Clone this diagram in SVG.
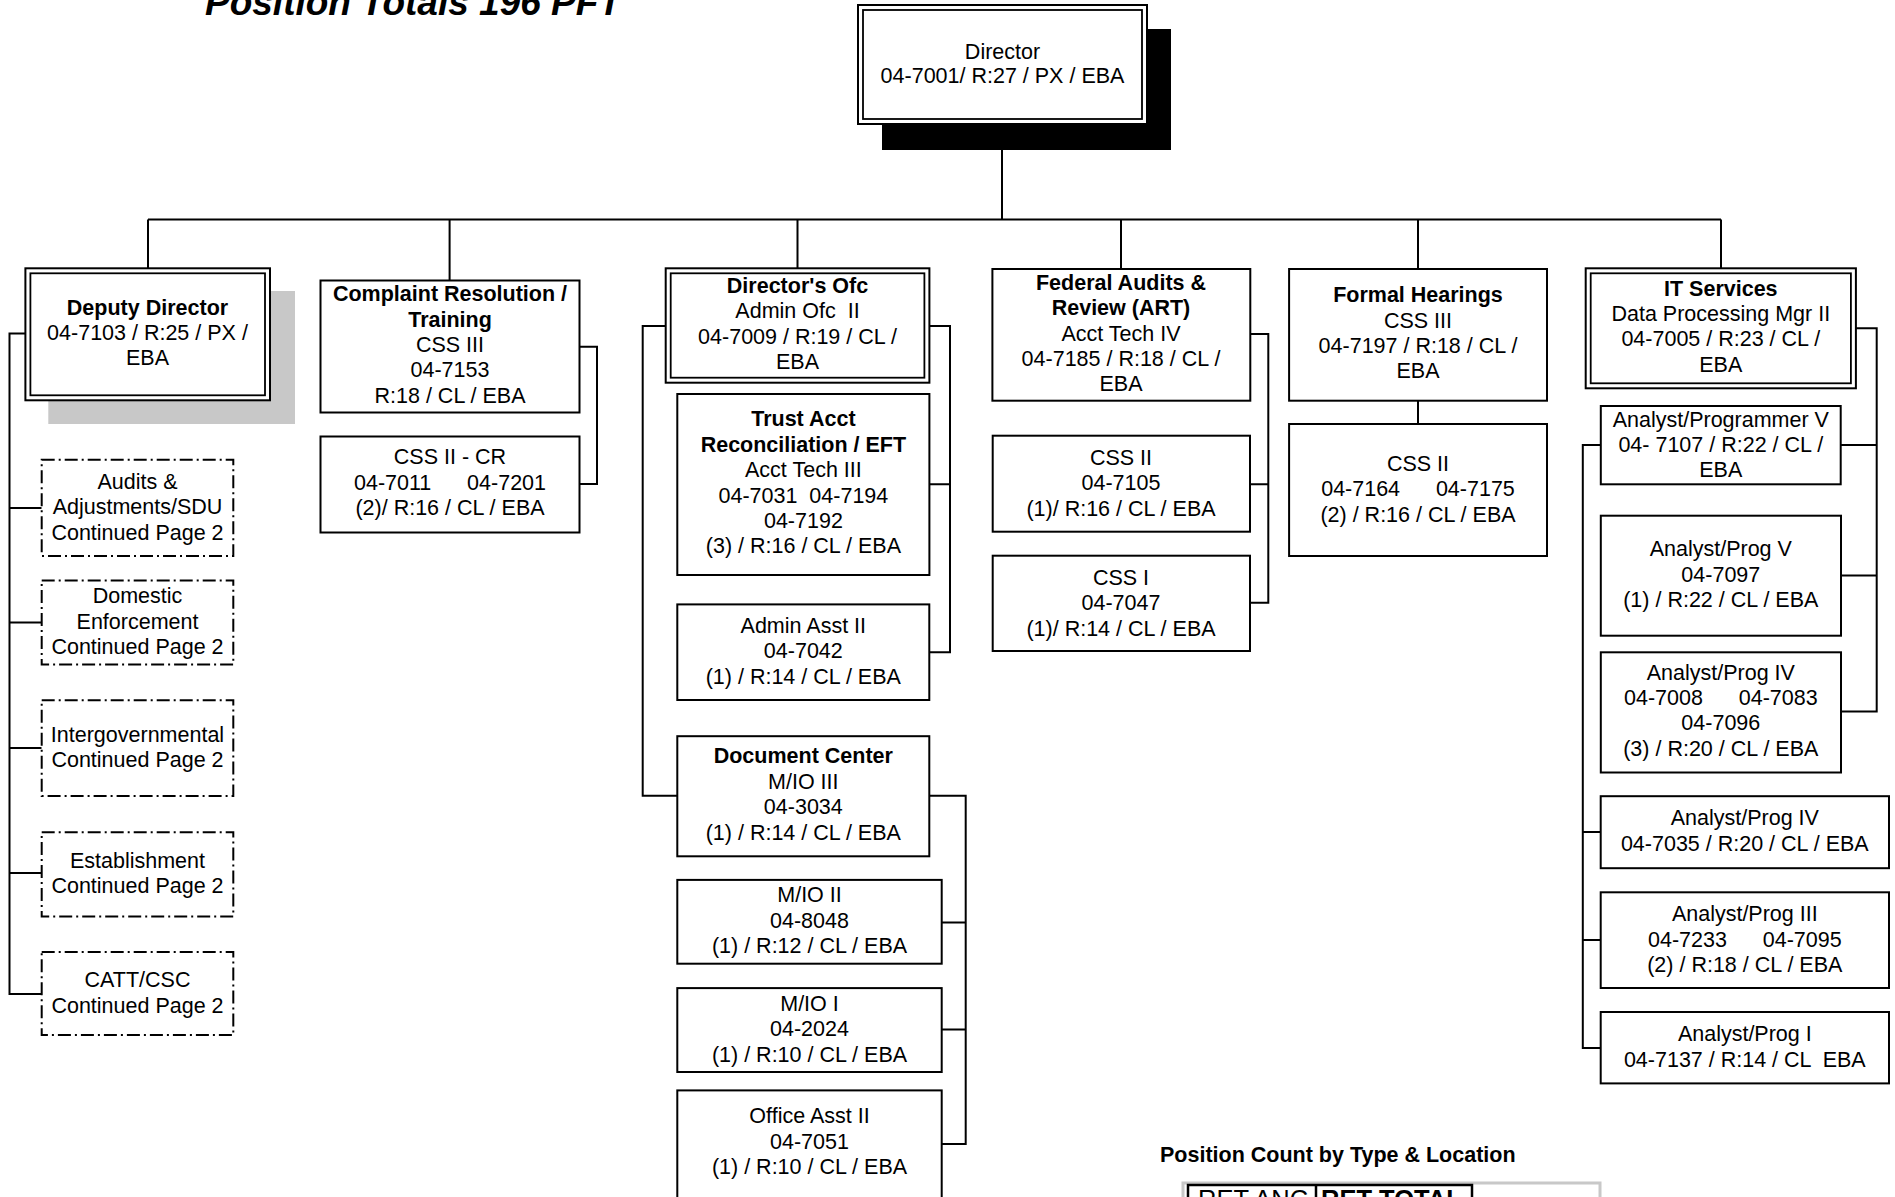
<svg xmlns="http://www.w3.org/2000/svg" width="1895" height="1197" viewBox="0 0 1895 1197">
<style>
.bg{fill:#ffffff}
.box{fill:#ffffff;stroke:#000;stroke-width:2}
.dbl{fill:none;stroke:#000;stroke-width:1.8}
.dash{fill:#ffffff;stroke:#000;stroke-width:2;stroke-dasharray:13 4 2 4}
.ln{fill:none;stroke:#000;stroke-width:2}
.t{font-family:"Liberation Sans",Arial,sans-serif;font-size:21.5px;text-anchor:middle;fill:#000}
.b{font-weight:bold}
.title{font-family:"Liberation Sans",Arial,sans-serif;font-size:37px;font-weight:bold;font-style:italic;fill:#000}
</style>
<rect class="bg" x="0" y="0" width="1895" height="1197"/>
<text class="title" x="205" y="15">Position Totals 196 PFT</text>

<g id="connectors">
<path class="ln" d="M1002,124 V219.5"/>
<path class="ln" d="M148,219.5 H1721"/>
<path class="ln" d="M148,219.5 V268.3 M449.6,219.5 V280.5 M797.5,219.5 V268.3 M1121,219.5 V269 M1418,219.5 V269 M1721,219.5 V268.3"/>
<path class="ln" d="M25.4,333.6 H9.5 V994 H41.7 M9.5,508 H41.7 M9.5,622.5 H41.7 M9.5,748 H41.7 M9.5,873 H41.7"/>
<path class="ln" d="M578.9,346.7 H597 V484 H578.9"/>
<path class="ln" d="M665.7,326 H642.7 V795.7 H677.3"/>
<path class="ln" d="M929.4,326 H950 V652.3 H929.4 M950,484.3 H929.4"/>
<path class="ln" d="M929.3,795.7 H965.7 V1144 H941.7 M965.7,922.4 H941.7 M965.7,1029.4 H941.7"/>
<path class="ln" d="M1250.3,334 H1268.3 V602.7 H1250 M1268.3,484.3 H1250"/>
<path class="ln" d="M1418,400.7 V424"/>
<path class="ln" d="M1855.9,328.3 H1876.7 V711.5 H1841 M1876.7,445 H1840.7 M1876.7,575.5 H1841"/>
<path class="ln" d="M1600.8,445 H1582.8 V1048 H1600.7 M1582.8,832 H1600.7 M1582.8,940 H1600.7"/>
</g>

<g id="director">
<rect x="882" y="29" width="289" height="121" fill="#000"/>
<rect class="box" x="858" y="5" width="289" height="119"/>
<rect class="dbl" x="863" y="10" width="279" height="109"/>
<text class="t" x="1002.5" y="58.5">Director</text>
<text class="t" x="1002.5" y="83">04-7001/ R:27 / PX / EBA</text>
</g>

<g id="deputy-director">
<rect x="48.3" y="291" width="246.7" height="133" fill="#c8c8c8"/>
<rect class="box" x="25.4" y="268.3" width="244.6" height="132"/>
<rect class="dbl" x="30.4" y="273.3" width="234.6" height="122"/>
<text class="t b" x="147.5" y="314.6">Deputy Director</text>
<text class="t" x="147.5" y="340">04-7103 / R:25 / PX /</text>
<text class="t" x="147.5" y="365.4">EBA</text>
</g>

<g id="audits-adjustments">
<rect class="dash" x="41.7" y="459.8" width="191.6" height="96.1"/>
<text class="t" x="137.5" y="489">Audits &amp;</text>
<text class="t" x="137.5" y="514.4">Adjustments/SDU</text>
<text class="t" x="137.5" y="539.8">Continued Page 2</text>
</g>
<g id="domestic-enforcement">
<rect class="dash" x="41.7" y="580.4" width="191.6" height="84.2"/>
<text class="t" x="137.5" y="603.4">Domestic</text>
<text class="t" x="137.5" y="628.8">Enforcement</text>
<text class="t" x="137.5" y="654.2">Continued Page 2</text>
</g>
<g id="intergovernmental">
<rect class="dash" x="41.7" y="700.2" width="191.6" height="95.7"/>
<text class="t" x="137.5" y="741.6">Intergovernmental</text>
<text class="t" x="137.5" y="767">Continued Page 2</text>
</g>
<g id="establishment">
<rect class="dash" x="41.7" y="832.2" width="191.6" height="84.3"/>
<text class="t" x="137.5" y="868">Establishment</text>
<text class="t" x="137.5" y="893.4">Continued Page 2</text>
</g>
<g id="catt-csc">
<rect class="dash" x="41.7" y="952" width="191.6" height="83"/>
<text class="t" x="137.5" y="987.1">CATT/CSC</text>
<text class="t" x="137.5" y="1012.5">Continued Page 2</text>
</g>

<g id="complaint-resolution">
<rect class="box" x="320.5" y="280.5" width="259" height="132"/>
<text class="t b" x="450" y="301.2">Complaint Resolution /</text>
<text class="t b" x="450" y="326.6">Training</text>
<text class="t" x="450" y="352">CSS III</text>
<text class="t" x="450" y="377.4">04-7153</text>
<text class="t" x="450" y="402.8">R:18 / CL / EBA</text>
</g>
<g id="css2-cr">
<rect class="box" x="320.5" y="436.5" width="259" height="96"/>
<text class="t" x="450" y="463.5">CSS II - CR</text>
<text class="t" x="450" y="489.5" xml:space="preserve">04-7011      04-7201</text>
<text class="t" x="450" y="515.2">(2)/ R:16 / CL / EBA</text>
</g>

<g id="directors-ofc">
<rect class="box" x="665.7" y="268.3" width="263.7" height="114.4"/>
<rect class="dbl" x="670.7" y="273.3" width="253.7" height="104.4"/>
<text class="t b" x="797.5" y="293">Director's Ofc</text>
<text class="t" x="797.5" y="318.4" xml:space="preserve">Admin Ofc  II</text>
<text class="t" x="797.5" y="343.8">04-7009 / R:19 / CL /</text>
<text class="t" x="797.5" y="369.2">EBA</text>
</g>
<g id="trust-acct">
<rect class="box" x="677.3" y="394" width="252.1" height="181"/>
<text class="t b" x="803.4" y="426.2">Trust Acct</text>
<text class="t b" x="803.4" y="451.7">Reconciliation / EFT</text>
<text class="t" x="803.4" y="477.1">Acct Tech III</text>
<text class="t" x="803.4" y="502.5" xml:space="preserve">04-7031  04-7194</text>
<text class="t" x="803.4" y="527.9">04-7192</text>
<text class="t" x="803.4" y="553.4">(3) / R:16 / CL / EBA</text>
</g>
<g id="admin-asst">
<rect class="box" x="677.3" y="604.4" width="252" height="95.6"/>
<text class="t" x="803.3" y="632.8">Admin Asst II</text>
<text class="t" x="803.3" y="658.2">04-7042</text>
<text class="t" x="803.3" y="683.6">(1) / R:14 / CL / EBA</text>
</g>
<g id="document-center">
<rect class="box" x="677.3" y="736.2" width="252" height="120.1"/>
<text class="t b" x="803.3" y="763.3">Document Center</text>
<text class="t" x="803.3" y="788.7">M/IO III</text>
<text class="t" x="803.3" y="814.1">04-3034</text>
<text class="t" x="803.3" y="839.5">(1) / R:14 / CL / EBA</text>
</g>
<g id="mio2">
<rect class="box" x="677.3" y="879.9" width="264.4" height="83.8"/>
<text class="t" x="809.5" y="902.4">M/IO II</text>
<text class="t" x="809.5" y="927.8">04-8048</text>
<text class="t" x="809.5" y="953.2">(1) / R:12 / CL / EBA</text>
</g>
<g id="mio1">
<rect class="box" x="677.3" y="988.1" width="264.4" height="83.9"/>
<text class="t" x="809.5" y="1010.8">M/IO I</text>
<text class="t" x="809.5" y="1036.2">04-2024</text>
<text class="t" x="809.5" y="1061.6">(1) / R:10 / CL / EBA</text>
</g>
<g id="office-asst">
<rect class="box" x="677.3" y="1090.4" width="264.4" height="130"/>
<text class="t" x="809.5" y="1123.4">Office Asst II</text>
<text class="t" x="809.5" y="1148.8">04-7051</text>
<text class="t" x="809.5" y="1174.2">(1) / R:10 / CL / EBA</text>
</g>

<g id="federal-audits">
<rect class="box" x="992.4" y="269" width="257.9" height="131.7"/>
<text class="t b" x="1121" y="289.8">Federal Audits &amp;</text>
<text class="t b" x="1121" y="315.2">Review (ART)</text>
<text class="t" x="1121" y="340.6">Acct Tech IV</text>
<text class="t" x="1121" y="366">04-7185 / R:18 / CL /</text>
<text class="t" x="1121" y="391.4">EBA</text>
</g>
<g id="css2-fed">
<rect class="box" x="992.7" y="435.7" width="257.3" height="96"/>
<text class="t" x="1121" y="464.8">CSS II</text>
<text class="t" x="1121" y="490.2">04-7105</text>
<text class="t" x="1121" y="515.6">(1)/ R:16 / CL / EBA</text>
</g>
<g id="css1-fed">
<rect class="box" x="992.7" y="555.7" width="257.3" height="95.3"/>
<text class="t" x="1121" y="584.8">CSS I</text>
<text class="t" x="1121" y="610.2">04-7047</text>
<text class="t" x="1121" y="635.6">(1)/ R:14 / CL / EBA</text>
</g>

<g id="formal-hearings">
<rect class="box" x="1289.1" y="269" width="257.9" height="131.7"/>
<text class="t b" x="1418" y="302.2">Formal Hearings</text>
<text class="t" x="1418" y="327.6">CSS III</text>
<text class="t" x="1418" y="353">04-7197 / R:18 / CL /</text>
<text class="t" x="1418" y="378.4">EBA</text>
</g>
<g id="css2-formal">
<rect class="box" x="1289.1" y="424" width="257.9" height="132"/>
<text class="t" x="1418" y="470.8">CSS II</text>
<text class="t" x="1418" y="496.2" xml:space="preserve">04-7164      04-7175</text>
<text class="t" x="1418" y="521.6">(2) / R:16 / CL / EBA</text>
</g>

<g id="it-services">
<rect class="box" x="1585.7" y="268.3" width="270.2" height="120"/>
<rect class="dbl" x="1590.7" y="273.3" width="260.2" height="110"/>
<text class="t b" x="1720.8" y="295.6">IT Services</text>
<text class="t" x="1720.8" y="321">Data Processing Mgr II</text>
<text class="t" x="1720.8" y="346.4">04-7005 / R:23 / CL /</text>
<text class="t" x="1720.8" y="371.8">EBA</text>
</g>
<g id="analyst-programmer-5">
<rect class="box" x="1600.8" y="406" width="239.9" height="78.3"/>
<text class="t" x="1720.8" y="426.5">Analyst/Programmer V</text>
<text class="t" x="1720.8" y="451.9">04- 7107 / R:22 / CL /</text>
<text class="t" x="1720.8" y="477.3">EBA</text>
</g>
<g id="analyst-prog-5">
<rect class="box" x="1600.8" y="515.7" width="240.2" height="120"/>
<text class="t" x="1720.8" y="556.2">Analyst/Prog V</text>
<text class="t" x="1720.8" y="581.6">04-7097</text>
<text class="t" x="1720.8" y="607">(1) / R:22 / CL / EBA</text>
</g>
<g id="analyst-prog-4a">
<rect class="box" x="1600.8" y="652.3" width="240.2" height="120.2"/>
<text class="t" x="1720.8" y="679.5">Analyst/Prog IV</text>
<text class="t" x="1720.8" y="704.9" xml:space="preserve">04-7008      04-7083</text>
<text class="t" x="1720.8" y="730.3">04-7096</text>
<text class="t" x="1720.8" y="755.7">(3) / R:20 / CL / EBA</text>
</g>
<g id="analyst-prog-4b">
<rect class="box" x="1600.7" y="796.2" width="288.3" height="72"/>
<text class="t" x="1744.8" y="825.2">Analyst/Prog IV</text>
<text class="t" x="1744.8" y="850.6">04-7035 / R:20 / CL / EBA</text>
</g>
<g id="analyst-prog-3">
<rect class="box" x="1600.7" y="892.3" width="288.3" height="95.7"/>
<text class="t" x="1744.8" y="921.1">Analyst/Prog III</text>
<text class="t" x="1744.8" y="946.5" xml:space="preserve">04-7233      04-7095</text>
<text class="t" x="1744.8" y="971.9">(2) / R:18 / CL / EBA</text>
</g>
<g id="analyst-prog-1">
<rect class="box" x="1600.7" y="1012" width="288.3" height="71.4"/>
<text class="t" x="1744.8" y="1041.3">Analyst/Prog I</text>
<text class="t" x="1744.8" y="1066.7" xml:space="preserve">04-7137 / R:14 / CL  EBA</text>
</g>

<g id="position-count">
<text class="t b" x="1160" y="1162" style="text-anchor:start">Position Count by Type &amp; Location</text>
<rect x="1183" y="1183" width="417" height="40" fill="#fff" stroke="#c8c8c8" stroke-width="3"/>
<rect x="1188" y="1185" width="284" height="40" fill="none" stroke="#000" stroke-width="2.5"/>
<line x1="1316" y1="1185" x2="1316" y2="1225" stroke="#000" stroke-width="2.5"/>
<text class="t" x="1198" y="1208" style="text-anchor:start;font-size:25.5px">RET ANC</text>
<text class="t b" x="1321" y="1208" style="text-anchor:start;font-size:25.5px">RET TOTAL</text>
</g>
</svg>
